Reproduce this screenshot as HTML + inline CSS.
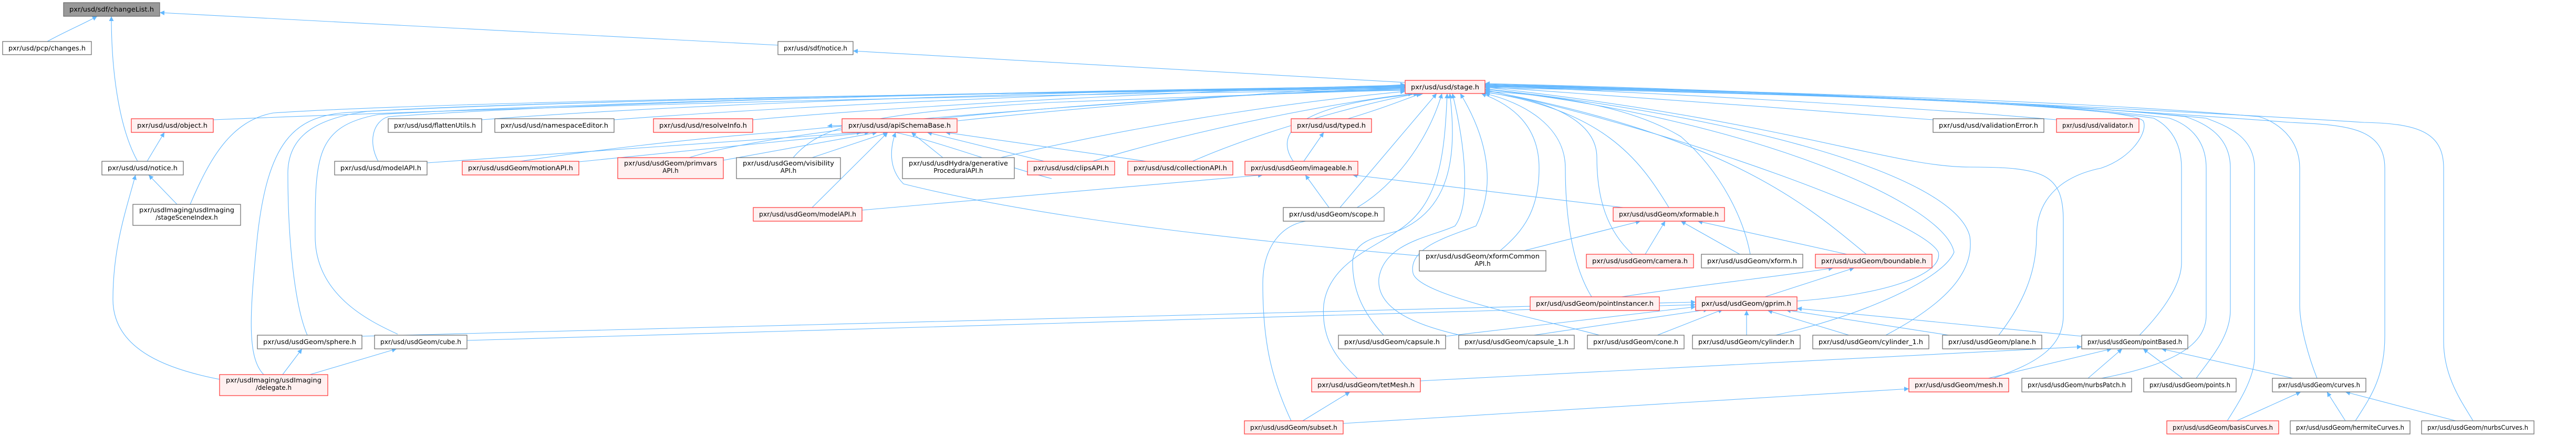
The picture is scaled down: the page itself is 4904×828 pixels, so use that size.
<!DOCTYPE html>
<html><head><meta charset="utf-8"><style>
html,body{margin:0;padding:0;background:#fff;}
svg{display:block;}
text{font-family:"DejaVu Sans","Liberation Sans",sans-serif;font-size:12px;fill:#000;}
.n rect{fill:#fff;stroke:#666;stroke-width:1.2;}
.r rect{fill:#fff0f0;stroke:#ff3030;stroke-width:1.2;}
.g rect{fill:#999;stroke:#666;stroke-width:1.2;}
path.e{fill:none;stroke:#63b8ff;stroke-width:1.1;marker-end:url(#a);}
</style></head><body>
<svg width="4904" height="828" viewBox="0 0 4904 828" xmlns="http://www.w3.org/2000/svg">
<defs><marker id="a" viewBox="0 0 10 10" refX="10" refY="5" markerWidth="9" markerHeight="9" markerUnits="userSpaceOnUse" orient="auto"><path d="M0,0 L10,5 L0,10 z" fill="#63b8ff"/></marker></defs>
<g>
<!-- changeList edges -->
<path class="e" d="M90,79 C120,62 160,45 185,31"/>
<path class="e" d="M262,307 C230,250 212,150 212,31"/>
<path class="e" d="M1481,86 L304,24"/>
<path class="e" d="M2675,157 L1624,97"/>
<!-- notice etc -->
<path class="e" d="M280,307 L313,252"/>
<path class="e" d="M337,389 L283,333"/>
<path class="e" d="M418,722 C330,705 215,670 215,570 C215,470 240,400 258,333"/>
<path class="e" d="M538,713 L575,664"/>
<path class="e" d="M590,713 L755,664"/>
<path class="e" d="M689,640 L3228,575"/>
<path class="e" d="M889,648 L3228,580"/>
<!-- to stage from left -->
<path class="e" d="M406,228 C1200,195 2200,175 2675,172"/>
<path class="e" d="M362,389 C400,300 440,230 520,215 C900,190 2200,172 2675,170"/>
<path class="e" d="M502,713 C470,680 475,600 490,450 C510,270 560,225 650,215 C1000,190 2200,172 2675,168"/>
<path class="e" d="M585,638 C560,580 548,450 548,330 C548,260 600,225 700,212 C1100,190 2200,170 2675,167"/>
<path class="e" d="M757,636 C700,610 600,560 600,450 C600,300 600,240 720,218 C1200,190 2200,170 2675,166"/>
<path class="e" d="M720,307 C700,270 710,230 740,222 C1200,190 2200,168 2675,165"/>
<path class="e" d="M917,228 C1400,190 2300,168 2675,164"/>
<path class="e" d="M1169,228 C1600,195 2300,168 2675,163"/>
<path class="e" d="M1433,228 C1800,195 2400,168 2675,162"/>
<path class="e" d="M1823,230 C2100,200 2500,170 2675,161"/>
<path class="e" d="M991,307 C1100,290 1300,265 1500,250 C2000,200 2500,172 2675,168"/>
<path class="e" d="M1312,300 C1500,240 2200,180 2675,170"/>
<path class="e" d="M1510,300 C1560,240 1650,215 2000,195 C2400,180 2600,172 2675,172"/>
<path class="e" d="M1905,300 C2200,230 2500,190 2675,174"/>
<path class="e" d="M2080,307 C2300,240 2550,195 2690,178"/>
<path class="e" d="M2270,307 C2400,250 2600,195 2700,178"/>
<path class="e" d="M2462,307 C2430,260 2450,200 2710,178"/>
<path class="e" d="M2566,226 C2620,210 2660,195 2705,178"/>
<path class="e" d="M2458,801 C2420,720 2404,650 2404,540 C2404,460 2450,420 2500,420 C2600,420 2710,300 2745,178"/>
<path class="e" d="M2584,720 C2540,680 2515,640 2520,580 C2530,500 2620,470 2660,440 C2740,390 2750,300 2755,178"/>
<path class="e" d="M2551,395 L2735,178"/>
<path class="e" d="M2634,638 C2600,600 2575,560 2575,500 C2575,460 2620,450 2660,440 C2760,400 2775,300 2760,178"/>
<path class="e" d="M2780,638 C2700,620 2620,590 2625,530 C2635,460 2730,450 2770,430 C2800,390 2790,280 2765,178"/>
<path class="e" d="M3045,638 C2900,600 2700,560 2690,520 C2680,470 2760,450 2810,430 C2850,350 2830,260 2780,178"/>
<path class="e" d="M2856,477 C2900,440 2930,400 2930,320 C2930,240 2880,200 2820,178"/>
<path class="e" d="M3030,565 C2990,500 2980,400 2980,320 C2980,240 2900,195 2827,178"/>
<!-- right side to stage -->
<path class="e" d="M3108,484 C3060,440 3040,380 3040,300 C3040,230 2950,190 2827,176"/>
<path class="e" d="M3177,395 C3120,300 3050,210 2827,175"/>
<path class="e" d="M3332,484 C3320,420 3280,330 3200,260 C3100,200 2950,180 2827,174"/>
<path class="e" d="M3553,484 C3450,400 3300,260 2827,172"/>
<path class="e" d="M3421,573 C3600,560 3700,520 3690,480 C3660,420 3200,250 2827,171"/>
<path class="e" d="M3380,638 C3550,600 3700,530 3720,480 C3700,380 3300,220 2827,170"/>
<path class="e" d="M3590,638 C3700,580 3760,520 3750,450 C3720,330 3300,220 2827,169"/>
<path class="e" d="M3805,638 C3850,580 3877,520 3877,450 C3877,360 3950,330 4000,320 C4060,300 4090,250 4080,230 C4050,200 3500,180 2827,167"/>
<path class="e" d="M3795,720 C3880,690 3928,660 3928,600 L3928,420 C3928,330 3890,318 3750,318 C3600,318 3400,230 2827,166"/>
<path class="e" d="M4073,638 C4120,590 4153,540 4153,500 L4153,320 C4153,260 4120,235 4100,225 C3900,195 3500,180 2827,165"/>
<path class="e" d="M3858,744 C4000,720 4200,700 4200,600 L4200,320 C4200,260 4160,235 4130,225 C3900,195 3500,180 2827,164"/>
<path class="e" d="M4181,720 C4210,680 4246,640 4246,590 L4246,320 C4246,260 4200,235 4160,222 C3900,195 3500,178 2827,163"/>
<path class="e" d="M4240,801 C4260,770 4292,720 4292,680 L4292,320 C4292,260 4240,240 4200,225 C3900,195 3500,178 2827,162"/>
<path class="e" d="M4411,720 C4395,680 4378,620 4378,580 L4378,320 C4378,260 4330,230 4300,222 C4000,195 3500,178 2827,161"/>
<path class="e" d="M4484,801 C4510,760 4540,720 4540,640 L4540,320 C4540,240 4460,238 4360,233 C4000,205 3500,178 2827,160"/>
<path class="e" d="M4708,801 C4690,770 4652,720 4652,650 L4652,320 C4652,250 4600,235 4500,233 C4300,220 3500,175 2827,159"/>
<path class="e" d="M3680,228 C3400,205 3000,178 2827,165"/>
<path class="e" d="M3915,228 C3600,200 3100,175 2827,163"/>
<!-- apiSchemaBase -->
<path class="e" d="M813,310 L1640,252"/>
<path class="e" d="M1102,308 L1655,252"/>
<path class="e" d="M1377,305 L1670,252"/>
<path class="e" d="M1546,300 L1690,252"/>
<path class="e" d="M1546,395 L1690,252"/>
<path class="e" d="M1795,300 L1735,252"/>
<path class="e" d="M1988,307 L1765,252"/>
<path class="e" d="M2182,307 L1800,252"/>
<path class="e" d="M2702,487 C2400,460 2000,420 1720,350 C1690,320 1695,280 1705,252"/>
<path class="e" d="M1641,400 L2404,333"/>
<path class="e" d="M2002,340 C1850,300 1700,230 1575,240"/>
<!-- imageable etc -->
<path class="e" d="M2482,307 L2520,252"/>
<path class="e" d="M2530,395 L2485,333"/>
<path class="e" d="M3090,395 L2575,333"/>
<path class="e" d="M2480,801 L2570,746"/>
<path class="e" d="M2557,806 L3634,740"/>
<path class="e" d="M2704,725 L3963,660"/>
<path class="e" d="M2902,477 L3123,421"/>
<path class="e" d="M3132,484 L3170,421"/>
<path class="e" d="M3312,484 L3200,421"/>
<path class="e" d="M3516,484 L3232,421"/>
<path class="e" d="M3087,565 C3250,540 3400,525 3490,510"/>
<path class="e" d="M3360,565 L3530,510"/>
<!-- gprim -->
<path class="e" d="M2752,640 L3228,584"/>
<path class="e" d="M2920,638 L3252,589"/>
<path class="e" d="M3155,638 L3280,589"/>
<path class="e" d="M3325,638 L3325,591"/>
<path class="e" d="M3520,638 L3365,591"/>
<path class="e" d="M3710,638 L3400,590"/>
<path class="e" d="M3963,640 L3421,587"/>
<!-- pointBased -->
<path class="e" d="M3785,720 L4020,664"/>
<path class="e" d="M3975,720 L4040,664"/>
<path class="e" d="M4155,720 L4080,664"/>
<path class="e" d="M4365,720 L4115,664"/>
<path class="e" d="M4258,801 L4380,746"/>
<path class="e" d="M4465,801 L4430,746"/>
<path class="e" d="M4675,801 L4465,746"/>
</g>
<!-- nodes -->
<g class="g"><rect x="121" y="5" width="183" height="26"/><text x="212.5" y="22" text-anchor="middle" textLength="161" lengthAdjust="spacingAndGlyphs">pxr/usd/sdf/changeList.h</text></g>
<g class="n"><rect x="5" y="79" width="169" height="25"/><text x="89.5" y="96" text-anchor="middle" textLength="147" lengthAdjust="spacingAndGlyphs">pxr/usd/pcp/changes.h</text></g>
<g class="n"><rect x="1481" y="79" width="143" height="25"/><text x="1552.5" y="96" text-anchor="middle" textLength="121" lengthAdjust="spacingAndGlyphs">pxr/usd/sdf/notice.h</text></g>
<g class="r"><rect x="2675" y="153" width="152" height="25"/><text x="2751" y="170" text-anchor="middle" textLength="130" lengthAdjust="spacingAndGlyphs">pxr/usd/usd/stage.h</text></g>
<g class="r"><rect x="250" y="226" width="156" height="26"/><text x="328" y="243" text-anchor="middle" textLength="134" lengthAdjust="spacingAndGlyphs">pxr/usd/usd/object.h</text></g>
<g class="n"><rect x="739" y="226" width="178" height="26"/><text x="828" y="243" text-anchor="middle" textLength="156" lengthAdjust="spacingAndGlyphs">pxr/usd/usd/flattenUtils.h</text></g>
<g class="n"><rect x="942" y="226" width="227" height="26"/><text x="1055.5" y="243" text-anchor="middle" textLength="205" lengthAdjust="spacingAndGlyphs">pxr/usd/usd/namespaceEditor.h</text></g>
<g class="r"><rect x="1244" y="226" width="189" height="26"/><text x="1338.5" y="243" text-anchor="middle" textLength="167" lengthAdjust="spacingAndGlyphs">pxr/usd/usd/resolveInfo.h</text></g>
<g class="r"><rect x="1603" y="226" width="219" height="26"/><text x="1712.5" y="243" text-anchor="middle" textLength="195" lengthAdjust="spacingAndGlyphs">pxr/usd/usd/apiSchemaBase.h</text></g>
<g class="r"><rect x="2458" y="226" width="153" height="26"/><text x="2534.5" y="243" text-anchor="middle" textLength="131" lengthAdjust="spacingAndGlyphs">pxr/usd/usd/typed.h</text></g>
<g class="n"><rect x="3680" y="226" width="211" height="26"/><text x="3785.5" y="243" text-anchor="middle" textLength="189" lengthAdjust="spacingAndGlyphs">pxr/usd/usd/validationError.h</text></g>
<g class="r"><rect x="3915" y="226" width="157" height="26"/><text x="3993.5" y="243" text-anchor="middle" textLength="135" lengthAdjust="spacingAndGlyphs">pxr/usd/usd/validator.h</text></g>
<g class="n"><rect x="194" y="307" width="155" height="26"/><text x="271.5" y="324" text-anchor="middle" textLength="133" lengthAdjust="spacingAndGlyphs">pxr/usd/usd/notice.h</text></g>
<g class="n"><rect x="637" y="307" width="176" height="26"/><text x="725" y="324" text-anchor="middle" textLength="154" lengthAdjust="spacingAndGlyphs">pxr/usd/usd/modelAPI.h</text></g>
<g class="r"><rect x="880" y="307" width="222" height="26"/><text x="991" y="324" text-anchor="middle" textLength="200" lengthAdjust="spacingAndGlyphs">pxr/usd/usdGeom/motionAPI.h</text></g>
<g class="r"><rect x="1176" y="300" width="201" height="40"/><text x="1276.5" y="315" text-anchor="middle" textLength="177" lengthAdjust="spacingAndGlyphs">pxr/usd/usdGeom/primvars</text><text x="1276.5" y="329" text-anchor="middle">API.h</text></g>
<g class="n"><rect x="1402" y="300" width="198" height="40"/><text x="1501" y="315" text-anchor="middle" textLength="174" lengthAdjust="spacingAndGlyphs">pxr/usd/usdGeom/visibility</text><text x="1501" y="329" text-anchor="middle">API.h</text></g>
<g class="n"><rect x="1718" y="300" width="213" height="40"/><text x="1824.5" y="315" text-anchor="middle" textLength="189" lengthAdjust="spacingAndGlyphs">pxr/usd/usdHydra/generative</text><text x="1824.5" y="329" text-anchor="middle">ProceduralAPI.h</text></g>
<g class="r"><rect x="1956" y="307" width="166" height="26"/><text x="2039" y="324" text-anchor="middle" textLength="144" lengthAdjust="spacingAndGlyphs">pxr/usd/usd/clipsAPI.h</text></g>
<g class="r"><rect x="2147" y="307" width="200" height="26"/><text x="2247" y="324" text-anchor="middle" textLength="178" lengthAdjust="spacingAndGlyphs">pxr/usd/usd/collectionAPI.h</text></g>
<g class="r"><rect x="2370" y="307" width="215" height="26"/><text x="2477.5" y="324" text-anchor="middle" textLength="193" lengthAdjust="spacingAndGlyphs">pxr/usd/usdGeom/imageable.h</text></g>
<g class="n"><rect x="253" y="389" width="205" height="40"/><text x="355.5" y="404" text-anchor="middle" textLength="181" lengthAdjust="spacingAndGlyphs">pxr/usdImaging/usdImaging</text><text x="355.5" y="418" text-anchor="middle">/stageSceneIndex.h</text></g>
<g class="r"><rect x="1434" y="395" width="207" height="26"/><text x="1537.5" y="412" text-anchor="middle" textLength="185" lengthAdjust="spacingAndGlyphs">pxr/usd/usdGeom/modelAPI.h</text></g>
<g class="n"><rect x="2443" y="395" width="192" height="26"/><text x="2539" y="412" text-anchor="middle" textLength="170" lengthAdjust="spacingAndGlyphs">pxr/usd/usdGeom/scope.h</text></g>
<g class="r"><rect x="3071" y="395" width="212" height="26"/><text x="3177" y="412" text-anchor="middle" textLength="190" lengthAdjust="spacingAndGlyphs">pxr/usd/usdGeom/xformable.h</text></g>
<g class="n"><rect x="2702" y="477" width="241" height="39"/><text x="2822.5" y="492" text-anchor="middle" textLength="217" lengthAdjust="spacingAndGlyphs">pxr/usd/usdGeom/xformCommon</text><text x="2822.5" y="506" text-anchor="middle">API.h</text></g>
<g class="r"><rect x="3020" y="484" width="204" height="26"/><text x="3122" y="501" text-anchor="middle" textLength="182" lengthAdjust="spacingAndGlyphs">pxr/usd/usdGeom/camera.h</text></g>
<g class="n"><rect x="3239" y="484" width="193" height="26"/><text x="3335.5" y="501" text-anchor="middle" textLength="171" lengthAdjust="spacingAndGlyphs">pxr/usd/usdGeom/xform.h</text></g>
<g class="r"><rect x="3456" y="484" width="222" height="26"/><text x="3567" y="501" text-anchor="middle" textLength="200" lengthAdjust="spacingAndGlyphs">pxr/usd/usdGeom/boundable.h</text></g>
<g class="r"><rect x="2913" y="565" width="246" height="26"/><text x="3036" y="582" text-anchor="middle" textLength="224" lengthAdjust="spacingAndGlyphs">pxr/usd/usdGeom/pointInstancer.h</text></g>
<g class="r"><rect x="3228" y="565" width="193" height="26"/><text x="3324.5" y="582" text-anchor="middle" textLength="171" lengthAdjust="spacingAndGlyphs">pxr/usd/usdGeom/gprim.h</text></g>
<g class="n"><rect x="490" y="638" width="199" height="26"/><text x="589.5" y="655" text-anchor="middle" textLength="177" lengthAdjust="spacingAndGlyphs">pxr/usd/usdGeom/sphere.h</text></g>
<g class="n"><rect x="713" y="638" width="176" height="26"/><text x="801" y="655" text-anchor="middle" textLength="154" lengthAdjust="spacingAndGlyphs">pxr/usd/usdGeom/cube.h</text></g>
<g class="n"><rect x="2548" y="638" width="204" height="26"/><text x="2650" y="655" text-anchor="middle" textLength="182" lengthAdjust="spacingAndGlyphs">pxr/usd/usdGeom/capsule.h</text></g>
<g class="n"><rect x="2777" y="638" width="220" height="26"/><text x="2887" y="655" text-anchor="middle" textLength="198" lengthAdjust="spacingAndGlyphs">pxr/usd/usdGeom/capsule_1.h</text></g>
<g class="n"><rect x="3022" y="638" width="184" height="26"/><text x="3114" y="655" text-anchor="middle" textLength="162" lengthAdjust="spacingAndGlyphs">pxr/usd/usdGeom/cone.h</text></g>
<g class="n"><rect x="3222" y="638" width="205" height="26"/><text x="3324.5" y="655" text-anchor="middle" textLength="183" lengthAdjust="spacingAndGlyphs">pxr/usd/usdGeom/cylinder.h</text></g>
<g class="n"><rect x="3451" y="638" width="221" height="26"/><text x="3561.5" y="655" text-anchor="middle" textLength="199" lengthAdjust="spacingAndGlyphs">pxr/usd/usdGeom/cylinder_1.h</text></g>
<g class="n"><rect x="3698" y="638" width="189" height="26"/><text x="3792.5" y="655" text-anchor="middle" textLength="167" lengthAdjust="spacingAndGlyphs">pxr/usd/usdGeom/plane.h</text></g>
<g class="n"><rect x="3963" y="638" width="202" height="26"/><text x="4064" y="655" text-anchor="middle" textLength="180" lengthAdjust="spacingAndGlyphs">pxr/usd/usdGeom/pointBased.h</text></g>
<g class="r"><rect x="418" y="713" width="206" height="40"/><text x="521" y="728" text-anchor="middle" textLength="182" lengthAdjust="spacingAndGlyphs">pxr/usdImaging/usdImaging</text><text x="521" y="742" text-anchor="middle">/delegate.h</text></g>
<g class="r"><rect x="2497" y="720" width="207" height="26"/><text x="2600.5" y="737" text-anchor="middle" textLength="185" lengthAdjust="spacingAndGlyphs">pxr/usd/usdGeom/tetMesh.h</text></g>
<g class="r"><rect x="3634" y="720" width="190" height="26"/><text x="3729" y="737" text-anchor="middle" textLength="168" lengthAdjust="spacingAndGlyphs">pxr/usd/usdGeom/mesh.h</text></g>
<g class="n"><rect x="3849" y="720" width="209" height="26"/><text x="3953.5" y="737" text-anchor="middle" textLength="187" lengthAdjust="spacingAndGlyphs">pxr/usd/usdGeom/nurbsPatch.h</text></g>
<g class="n"><rect x="4081" y="720" width="176" height="26"/><text x="4169" y="737" text-anchor="middle" textLength="154" lengthAdjust="spacingAndGlyphs">pxr/usd/usdGeom/points.h</text></g>
<g class="n"><rect x="4326" y="720" width="178" height="26"/><text x="4415" y="737" text-anchor="middle" textLength="156" lengthAdjust="spacingAndGlyphs">pxr/usd/usdGeom/curves.h</text></g>
<g class="r"><rect x="2369" y="801" width="188" height="25"/><text x="2463" y="818" text-anchor="middle" textLength="166" lengthAdjust="spacingAndGlyphs">pxr/usd/usdGeom/subset.h</text></g>
<g class="r"><rect x="4125" y="801" width="213" height="25"/><text x="4231.5" y="818" text-anchor="middle" textLength="191" lengthAdjust="spacingAndGlyphs">pxr/usd/usdGeom/basisCurves.h</text></g>
<g class="n"><rect x="4360" y="801" width="228" height="25"/><text x="4474" y="818" text-anchor="middle" textLength="206" lengthAdjust="spacingAndGlyphs">pxr/usd/usdGeom/hermiteCurves.h</text></g>
<g class="n"><rect x="4610" y="801" width="214" height="25"/><text x="4717" y="818" text-anchor="middle" textLength="192" lengthAdjust="spacingAndGlyphs">pxr/usd/usdGeom/nurbsCurves.h</text></g>
</svg>
</body></html>
